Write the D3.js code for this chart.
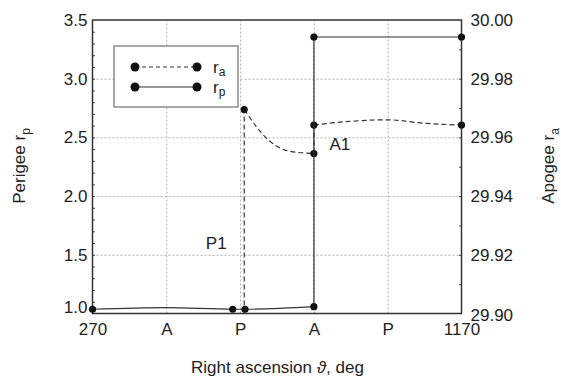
<!DOCTYPE html>
<html>
<head>
<meta charset="utf-8">
<script src="https://cdn.jsdelivr.net/npm/d3@7"></script>
<style>
  body { margin: 0; background: #fff; }
  text { font-family: "Liberation Sans", Arial, sans-serif; fill: #222; }
</style>
</head>
<body>
<svg id="chart" width="561" height="381"></svg>
<script>
// axis ticks
var thetaTicks = [270, 450, 630, 810, 990, 1170];
var thetaLabels = ["270", "A", "P", "A", "P", "1170"];
var perigeeTicks = [1.0, 1.5, 2.0, 2.5, 3.0, 3.5];
var apogeeTicks = [29.90, 29.92, 29.94, 29.96, 29.98, 30.00];

// perigee r_p (left axis), solid
var rpTheta = [270, 450, 612, 642, 810, 810, 1170];
var rpValue = [1.036, 1.05, 1.036, 1.036, 1.058, 3.355, 3.355];
var rpMarked = [true, false, true, true, true, true, true];

// apogee r_a (right axis), dashed
var raTheta = [640, 640, 700, 750, 810, 810, 900, 990, 1080, 1170];
var raValue = [29.90, 29.9695, 29.959, 29.9553, 29.9545, 29.9642, 29.9655, 29.966, 29.9648, 29.9642];
var raMarked = [false, true, false, false, true, true, false, false, false, true];

var svg = d3.select("#chart"),
    margin = {top: 20, right: 99.5, bottom: 67.5, left: 92.5},
    width = 561 - margin.left - margin.right,
    height = 381 - margin.top - margin.bottom,
    g = svg.append("g").attr("transform", "translate(" + margin.left + "," + margin.top + ")");

var x = d3.scaleLinear().domain([270, 1170]).range([0, width]);
var yL = d3.scaleLinear().domain([1.0, 3.5]).range([height, 0]);
var yR = d3.scaleLinear().domain([29.90, 30.00]).range([height, 0]);

// grid
g.append("g")
    .attr("class", "grid")
    .attr("transform", "translate(0," + height + ")")
    .call(d3.axisBottom(x).tickValues(thetaTicks.slice(1, -1)).tickSize(-height).tickFormat(""));
g.append("g")
    .attr("class", "grid")
    .call(d3.axisLeft(yL).tickValues(perigeeTicks.slice(1, -1)).tickSize(-width).tickFormat(""));
g.selectAll(".grid .domain").remove();
g.selectAll(".grid line")
    .attr("stroke", "#b0b0b0")
    .attr("stroke-dasharray", "2,2");

// minor ticks inside the frame
g.append("g")
    .attr("class", "minor")
    .call(d3.axisRight(yL).tickValues(d3.range(1.1, 3.45, 0.1)).tickSize(2.5).tickFormat(""));
g.append("g")
    .attr("class", "minor")
    .attr("transform", "translate(" + width + ",0)")
    .call(d3.axisLeft(yR).tickValues(d3.range(29.91, 29.995, 0.01)).tickSize(2.5).tickFormat(""));
g.selectAll(".minor .domain").remove();
g.selectAll(".minor line").attr("stroke", "#444");

// tick labels
var xAxis = g.append("g")
    .attr("transform", "translate(0," + height + ")")
    .call(d3.axisBottom(x).tickValues(thetaTicks).tickSize(0).tickPadding(9)
      .tickFormat(function(d, i) { return thetaLabels[i]; }));
var yAxisL = g.append("g")
    .call(d3.axisLeft(yL).tickValues(perigeeTicks).tickSize(0).tickPadding(5)
      .tickFormat(d3.format(".1f")));
var yAxisR = g.append("g")
    .attr("transform", "translate(" + width + ",0)")
    .call(d3.axisRight(yR).tickValues(apogeeTicks).tickSize(0).tickPadding(9)
      .tickFormat(d3.format(".2f")));
[xAxis, yAxisL, yAxisR].forEach(function(a) {
  a.select(".domain").remove();
  a.selectAll("text").attr("font-size", 17).attr("font-family", null).attr("fill", "#222");
});
yAxisL.selectAll("text").filter(function(d) { return d === 1.0; }).attr("dy", "-0.05em");
yAxisR.selectAll("text").filter(function(d) { return d === 29.90; }).attr("dy", "0.42em");

// frame
g.append("rect")
    .attr("width", width)
    .attr("height", height)
    .attr("fill", "none")
    .attr("stroke", "#333")
    .attr("stroke-width", 1.5);

// split a series into smooth runs and vertical jumps
function pieces(xs, ys) {
  var list = [], cur = [[xs[0], ys[0]]];
  for (var i = 1; i < xs.length; i++) {
    if (xs[i] === xs[i - 1]) {
      if (cur.length > 1) list.push(cur);
      list.push([[xs[i - 1], ys[i - 1]], [xs[i], ys[i]]]);
      cur = [[xs[i], ys[i]]];
    } else {
      cur.push([xs[i], ys[i]]);
    }
  }
  if (cur.length > 1) list.push(cur);
  return list;
}

function drawSeries(xs, ys, marked, yScale, dash) {
  var line = d3.line()
      .x(function(d) { return x(d[0]); })
      .y(function(d) { return yScale(d[1]); })
      .curve(d3.curveMonotoneX);
  var d = pieces(xs, ys).map(function(p) { return line(p); }).join("");
  g.append("path")
      .attr("d", d)
      .attr("fill", "none")
      .attr("stroke", "#333")
      .attr("stroke-width", 1.2)
      .attr("stroke-dasharray", dash);
  g.selectAll(null)
      .data(xs.map(function(t, i) { return [t, ys[i]]; }).filter(function(p, i) { return marked[i]; }))
      .enter().append("circle")
      .attr("cx", function(p) { return x(p[0]); })
      .attr("cy", function(p) { return yScale(p[1]); })
      .attr("r", 3.6)
      .attr("fill", "#111");
}

drawSeries(raTheta, raValue, raMarked, yR, "5,3");
drawSeries(rpTheta, rpValue, rpMarked, yL, null);

// annotations
g.append("text").attr("x", x(640) - 28).attr("y", yL(1.6) + 6).attr("text-anchor", "middle")
    .attr("font-size", 17).text("P1");
g.append("text").attr("x", x(810) + 26).attr("y", yR(29.9545) - 4).attr("text-anchor", "middle")
    .attr("font-size", 17).text("A1");

// legend
var legend = g.append("g").attr("transform", "translate(21.5,26)");
legend.append("rect")
    .attr("width", 124).attr("height", 61)
    .attr("fill", "#fff").attr("stroke", "#555").attr("stroke-width", 1);
[{dash: "4,3", sub: "a", y: 21}, {dash: null, sub: "p", y: 41}].forEach(function(item) {
  legend.append("line")
      .attr("x1", 21).attr("x2", 83).attr("y1", item.y).attr("y2", item.y)
      .attr("stroke", "#333").attr("stroke-width", 1.2).attr("stroke-dasharray", item.dash);
  [21, 83].forEach(function(cx) {
    legend.append("circle").attr("cx", cx).attr("cy", item.y).attr("r", 4.5).attr("fill", "#111");
  });
  var t = legend.append("text").attr("x", 99).attr("y", item.y + 6).attr("font-size", 17);
  t.append("tspan").text("r");
  t.append("tspan").attr("font-size", 12).attr("dy", 3).text(item.sub);
});

// axis titles
var xt = svg.append("text")
    .attr("x", margin.left + width / 2 + 0.5)
    .attr("y", 373)
    .attr("text-anchor", "middle")
    .attr("font-size", 17);
xt.append("tspan").text("Right ascension ");
xt.append("tspan").attr("font-style", "italic").text("\u03d1");
xt.append("tspan").text(", deg");

var lt = svg.append("text")
    .attr("transform", "translate(25,166) rotate(-90)")
    .attr("text-anchor", "middle")
    .attr("font-size", 17);
lt.append("tspan").text("Perigee r");
lt.append("tspan").attr("font-size", 12).attr("dy", 5).text("p");

var rt = svg.append("text")
    .attr("transform", "translate(554,166) rotate(-90)")
    .attr("text-anchor", "middle")
    .attr("font-size", 17);
rt.append("tspan").text("Apogee r");
rt.append("tspan").attr("font-size", 12).attr("dy", 5).text("a");
</script>
</body>
</html>
